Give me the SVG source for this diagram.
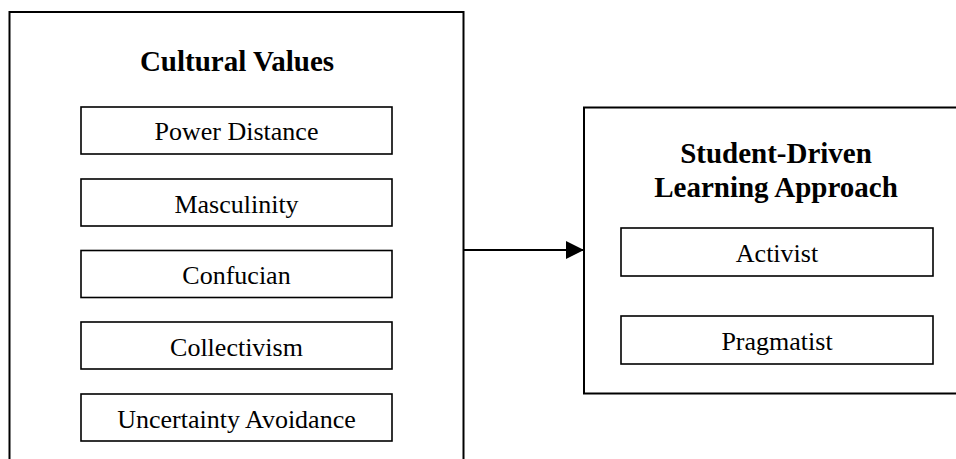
<svg xmlns="http://www.w3.org/2000/svg" width="956" height="459" viewBox="0 0 956 459">
<style>
.frame{fill:#fff;stroke:#000;stroke-width:2}
.box{fill:#fff;stroke:#000;stroke-width:1.6}
.t{font-family:"Liberation Serif","Times New Roman",serif;font-size:26px;text-anchor:middle;fill:#000}
.h{font-family:"Liberation Serif","Times New Roman",serif;font-size:29px;font-weight:bold;text-anchor:middle;fill:#000}
.conn{stroke:#000;stroke-width:2.2;fill:none}
</style>
<defs>
<marker id="arr" markerUnits="userSpaceOnUse" markerWidth="18" markerHeight="18" viewBox="0 0 16 16" refX="16" refY="8" orient="auto">
<path d="M0,0 L16,8 L0,16 Z" fill="#000"/>
</marker>
</defs>
<g id="cultural-values">
<path class="frame" d="M9.5,470 V12 H463.5 V470"/>
<text class="h" x="237" y="71">Cultural Values</text>
</g>
<g id="power-distance"><rect class="box" x="81" y="107" width="311" height="47"/><text class="t" x="236.5" y="140">Power Distance</text></g>
<g id="masculinity"><rect class="box" x="81" y="179" width="311" height="47"/><text class="t" x="236.5" y="213">Masculinity</text></g>
<g id="confucian"><rect class="box" x="81" y="250.5" width="311" height="47"/><text class="t" x="236.5" y="284">Confucian</text></g>
<g id="collectivism"><rect class="box" x="81" y="322" width="311" height="47"/><text class="t" x="236.5" y="356">Collectivism</text></g>
<g id="uncertainty-avoidance"><rect class="box" x="81" y="394" width="311" height="47"/><text class="t" x="236.5" y="428">Uncertainty Avoidance</text></g>
<g id="student-driven">
<path class="frame" d="M970,107.5 H584 V393.5 H970"/>
<text class="h" x="776" y="163">Student-Driven</text>
<text class="h" x="776" y="197">Learning Approach</text>
</g>
<g id="activist"><rect class="box" x="621" y="228" width="312" height="48"/><text class="t" x="777" y="262">Activist</text></g>
<g id="pragmatist"><rect class="box" x="621" y="316" width="312" height="48"/><text class="t" x="777" y="350">Pragmatist</text></g>
<g id="connectors">
<line class="conn" x1="463.5" y1="250" x2="584" y2="250" marker-end="url(#arr)"/>
</g>
</svg>
